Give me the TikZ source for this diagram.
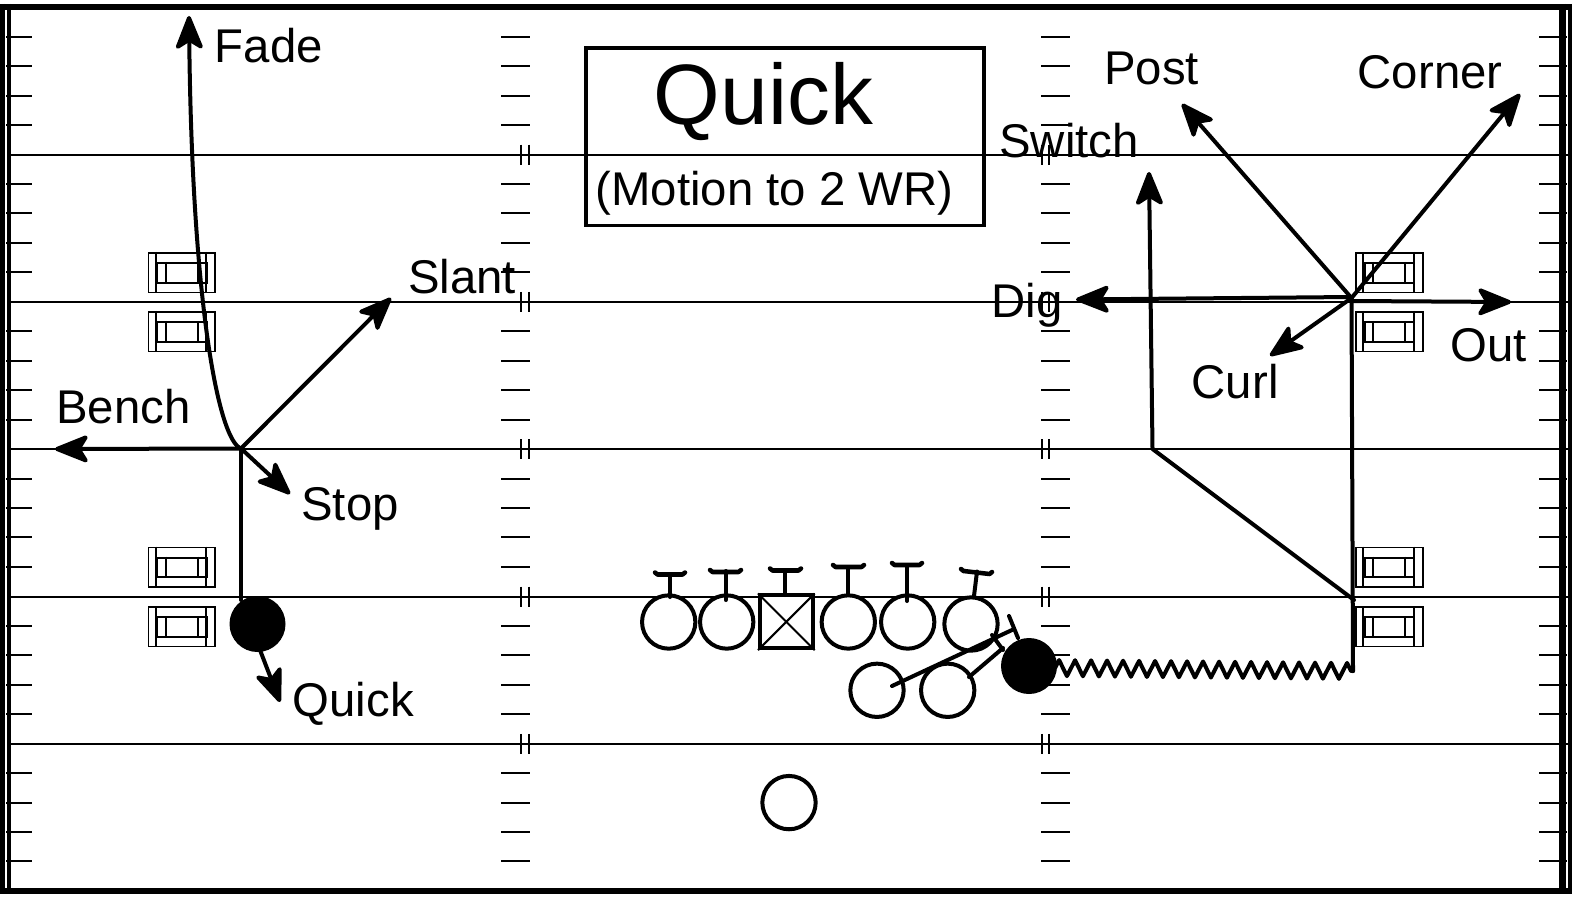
\documentclass[tikz,border=0pt]{standalone}
\usepackage{fontspec}
\setmainfont{Liberation Sans}
\usetikzlibrary{arrows.meta,decorations.pathmorphing}
\tikzset{
  x=0.75pt,y=-0.75pt,
  border/.style={line width=4.5pt,black},
  yard/.style={line width=1.5pt,black},
  tick/.style={line width=1.5pt,black},
  thinbox/.style={line width=1.3pt,black},
  route/.style={line width=3pt,black,line cap=round,line join=round},
  routearrow/.style={route,-{Stealth[length=29pt,width=23pt,inset=7pt,round]}},
  player/.style={circle,draw=black,line width=3pt,fill=white,minimum size=40pt,inner sep=0pt},
  hotplayer/.style={circle,fill=black,draw=black,line width=1pt,minimum size=41pt,inner sep=0pt},
  label/.style={anchor=base west,inner sep=0pt,font=\fontsize{35.5pt}{40pt}\selectfont},
}
\newcommand{\hashmarks}[1]{%
  \foreach \k in {0,...,4}{
    \pgfmathsetmacro{\yy}{154.7+147.3*\k}
    \draw[tick] (#1,\yy-10) -- (#1,\yy+10);
    \draw[tick] (#1+7.5,\yy-10) -- (#1+7.5,\yy+10);
  }
}
\newcommand{\numbox}[3]{% x, y, name
  \begin{scope}[shift={(#1,#2)}]
    \node[draw=black,line width=1.3pt,minimum width=50pt,minimum height=29.7pt,inner sep=0pt,anchor=north west] (#3) at (0,0) {};
    \draw[thinbox] (8,0) -- (8,39.6);
    \draw[thinbox] (58.5,0) -- (58.5,39.6);
    \node[draw=black,line width=1.7pt,minimum width=37pt,minimum height=14.7pt,inner sep=0pt,anchor=north west] (#3i) at (8.5,10) {};
    \draw[line width=1.7pt] (18,10) -- (18,29.6);
    \draw[line width=1.7pt] (50,10) -- (50,29.6);
  \end{scope}
}
\begin{document}
\begin{tikzpicture}
\useasboundingbox (0,0) rectangle (1583,898);
\fill[white] (0,0) rectangle (1583,898);
% yard lines
\foreach \y in {154.7,302,449.3,596.6,743.9}{
  \draw[yard] (8,\y) -- (1570,\y);
}
% ticks
\foreach \k in {0,...,28}{
  \pgfmathsetmacro{\yy}{36.6+29.46*\k}
  \pgfmathtruncatemacro{\skipit}{(\k==4||\k==9||\k==14||\k==19||\k==24)?1:0}
  \ifnum\skipit=0
    \draw[tick] (6,\yy) -- (32,\yy);
    \draw[tick] (501,\yy) -- (530,\yy);
    \draw[tick] (1041,\yy) -- (1070,\yy);
    \draw[tick] (1539,\yy) -- (1567,\yy);
  \fi
}
\hashmarks{521.3}
\hashmarks{1041.5}
% border
\draw[border] (0,7) -- (1572.3,7);
\draw[border] (0,890.5) -- (1572.3,890.5);
\draw[border] (2,4) -- (2,894);
\draw[line width=3pt] (9.3,4) -- (9.3,894);
\draw[border,line width=5pt] (1562.5,4) -- (1562.5,894);
\draw[line width=3pt] (1570.3,4) -- (1570.3,894);
% number boxes
\numbox{147.7}{252}{la}
\numbox{147.7}{311}{lb}
\numbox{147.7}{546.5}{lc}
\numbox{147.7}{606}{ld}
\numbox{1355.2}{252}{ra}
\numbox{1355.2}{311}{rb}
\numbox{1355.2}{546.5}{rc}
\numbox{1355.2}{606}{rd}
% title box
\node[draw=black,line width=2.8pt,fill=white,minimum width=298.5pt,minimum height=133pt,inner sep=0pt,anchor=north west] (title) at (584,46.2) {};
\draw[yard] (585,154.7) -- (983,154.7);
\node[anchor=base west,inner sep=0pt,font=\fontsize{64.3pt}{70pt}\selectfont] (titletext) at (653.5,125) {Quick};
\node[label] (subtitle) at (595.5,206) {(Motion to 2 WR)};
% offensive line
\node[player] (p1) at (668.7,622) {};
\node[player] (p2) at (726.7,622) {};
\node[draw=black,line width=3pt,fill=white,minimum size=39.5pt,inner sep=0pt] (center) at (786.3,621.8) {};
\draw[line width=1.5pt] (center.north west) -- (center.south east);
\draw[line width=1.5pt] (center.north east) -- (center.south west);
\node[player] (p4) at (848.3,622) {};
\node[player] (p5) at (907.7,622) {};
\node[player] (p6) at (971,624) {};
\node[player] (b1) at (877,690.3) {};
\node[player] (b2) at (947.7,690.3) {};
\node[player] (qb) at (789,802.6) {};
\node[hotplayer] (wrl) at (257.5,624) {};
\node[hotplayer] (wrr) at (1029,666) {};
% blocks
\foreach \sx/\sy/\ex/\ey/\ax/\ay/\bx/\by in {
  670/597/670/574/655/572.5/685/572.5,
  725.7/600/725.7/571/710/570/741/570,
  785/595/785/570/770/568.5/801/568.5,
  848/595/848/567/833/565/864/565,
  907/601/907/565/892/563/922/563}{
  \draw[route] (\sx,\sy) -- (\ex,\ey);
  \draw[route,line width=3.4pt] (\ax,\ay) -- (\ax+2.5,\ay+2) -- (\bx-2.5,\by+2) -- (\bx,\by);
}
\draw[route] (974,596) -- (977,571.5);
\draw[route,line width=3.4pt] (961,569) -- (963.5,571) -- (989.5,574) -- (992,572);
\draw[route] (892,686) -- (1012,630);
\draw[route] (1009,616) -- (1018,638);
\draw[route] (969,677) -- (1003,648);
\draw[route] (992,635) -- (1003,650);
% routes left
\coordinate (lbreak) at (241,448.5);
\coordinate (fadeEnd) at (189,16);
\coordinate (slantEnd) at (391,298);
\coordinate (benchEnd) at (55,449);
\coordinate (stopEnd) at (290,494);
\coordinate (quickStart) at (260,650);
\coordinate (quickEnd) at (280,702);
\draw[route] (241,600) -- (lbreak);
\draw[routearrow] (lbreak) .. controls (218,440) and (192,300) .. (fadeEnd);
\draw[routearrow] (lbreak) -- (slantEnd);
\draw[routearrow] (lbreak) -- (benchEnd);
\draw[routearrow] (lbreak) -- (stopEnd);
\draw[routearrow] (quickStart) -- (quickEnd);
% routes right
\coordinate (mstart) at (1055,668);
\coordinate (mend) at (1353,671);
\coordinate (rbreak) at (1351.5,298);
\coordinate (digStart) at (1351.5,297);
\coordinate (outStart) at (1351.5,301);
\coordinate (swA) at (1354,600);
\coordinate (swB) at (1152.5,449);
\coordinate (swEnd) at (1149,172);
\coordinate (postEnd) at (1182,104);
\coordinate (cornerEnd) at (1520,94);
\coordinate (digEnd) at (1076,299.5);
\coordinate (outEnd) at (1511,302);
\coordinate (curlEnd) at (1270,355.7);
\draw[route,decorate,decoration={zigzag,segment length=12pt,amplitude=6pt}] (mstart) -- (mend);
\draw[route] (mend) -- (rbreak);
\draw[routearrow] (swA) -- (swB) -- (swEnd);
\draw[routearrow] (rbreak) -- (postEnd);
\draw[routearrow] (rbreak) -- (cornerEnd);
\draw[routearrow] (digStart) -- (digEnd);
\draw[routearrow] (outStart) -- (outEnd);
\draw[routearrow] (rbreak) -- (curlEnd);
% labels
\node[label] (lfade) at (214.5,63) {Fade};
\node[label] (lslant) at (408,293.5) {Slant};
\node[label] (lbench) at (56,423) {Bench};
\node[label] (lstop) at (301,520) {Stop};
\node[label] (lquick) at (292.5,716) {Quick};
\node[label] (lpost) at (1104,85) {Post};
\node[label] (lcorner) at (1357.5,89) {Corner};
\node[label] (lswitch) at (999,157.5) {Switch};
\node[label] (ldig) at (991.5,318) {Dig};
\node[label] (lout) at (1450,361.5) {Out};
\node[label] (lcurl) at (1191.5,398) {Curl};
\end{tikzpicture}
\end{document}
